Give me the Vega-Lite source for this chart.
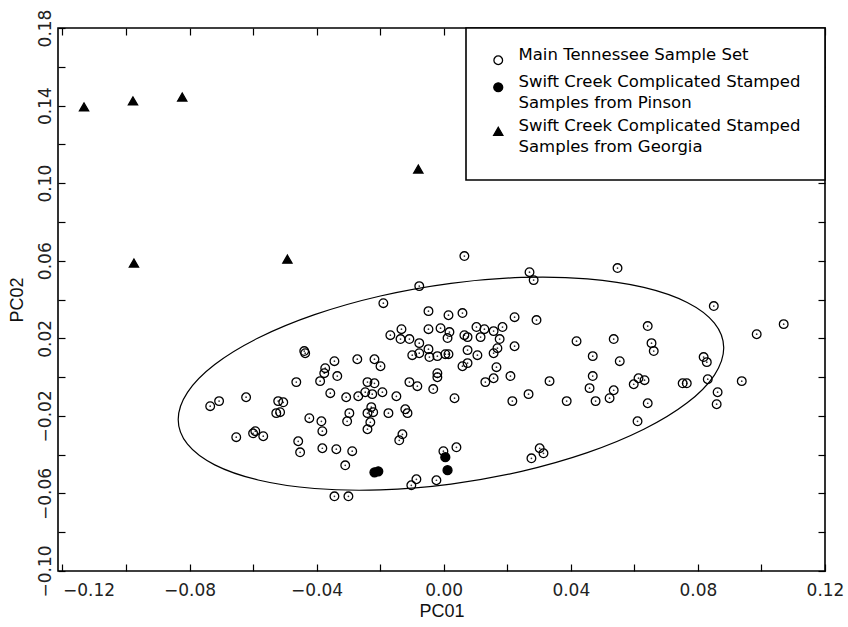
{
  "$schema": "https://vega.github.io/schema/vega-lite/v6.json",
  "width": 767,
  "height": 543,
  "autosize": {"type": "none"},
  "padding": {"left": 58, "top": 28, "right": 23, "bottom": 56},
  "background": "white",
  "config": {
    "view": {"stroke": "black", "strokeWidth": 1.6},
    "axis": {
      "grid": false,
      "domain": false,
      "tickColor": "black",
      "tickSize": -7,
      "tickWidth": 1.2,
      "labelFont": "DejaVu Sans",
      "labelFontSize": 17,
      "labelColor": "#222",
      "titleFont": "Liberation Sans",
      "titleFontSize": 18,
      "titleFontWeight": "normal",
      "titleColor": "#111"
    },
    "legend": {
      "orient": "top-right",
      "offset": 0,
      "strokeColor": "black",
      "strokeWidth": 1.6,
      "fillColor": "white",
      "padding": 24,
      "labelFont": "DejaVu Sans",
      "labelFontSize": 16.5,
      "labelColor": "black",
      "labelLimit": 0,
      "labelOffset": 12,
      "rowPadding": 6,
      "symbolStrokeColor": "black",
      "symbolStrokeWidth": 1.3,
      "symbolOpacity": 1,
      "labelBaseline": "alphabetic"
    },
    "style": {"guide-label": {"lineHeight": 21}}
  },
  "datasets": {
    "ell": [
      {"t": 0, "pc1": 0.08813, "pc2": 0.01506},
      {"t": 15, "pc1": 0.0852, "pc2": 0.02782},
      {"t": 30, "pc1": 0.07663, "pc2": 0.03847},
      {"t": 45, "pc1": 0.06298, "pc2": 0.04624},
      {"t": 60, "pc1": 0.04521, "pc2": 0.05065},
      {"t": 75, "pc1": 0.0245, "pc2": 0.05136},
      {"t": 90, "pc1": 0.00228, "pc2": 0.04834},
      {"t": 105, "pc1": -0.01994, "pc2": 0.0418},
      {"t": 120, "pc1": -0.04065, "pc2": 0.03217},
      {"t": 135, "pc1": -0.05842, "pc2": 0.02012},
      {"t": 150, "pc1": -0.07207, "pc2": 0.00647},
      {"t": 165, "pc1": -0.08064, "pc2": -0.00786},
      {"t": 180, "pc1": -0.08357, "pc2": -0.02188},
      {"t": 195, "pc1": -0.08064, "pc2": -0.03464},
      {"t": 210, "pc1": -0.07207, "pc2": -0.04529},
      {"t": 225, "pc1": -0.05842, "pc2": -0.05306},
      {"t": 240, "pc1": -0.04065, "pc2": -0.05747},
      {"t": 255, "pc1": -0.01994, "pc2": -0.05818},
      {"t": 270, "pc1": 0.00228, "pc2": -0.05516},
      {"t": 285, "pc1": 0.0245, "pc2": -0.04862},
      {"t": 300, "pc1": 0.04521, "pc2": -0.03899},
      {"t": 315, "pc1": 0.06298, "pc2": -0.02694},
      {"t": 330, "pc1": 0.07663, "pc2": -0.01329},
      {"t": 345, "pc1": 0.0852, "pc2": 0.00104}
    ],
    "pts": [
      {"pc1": 0.0065, "pc2": 0.0624, "group": "main"},
      {"pc1": 0.0270, "pc2": 0.0541, "group": "main"},
      {"pc1": 0.0283, "pc2": 0.0500, "group": "main"},
      {"pc1": 0.0547, "pc2": 0.0562, "group": "main"},
      {"pc1": -0.0077, "pc2": 0.0469, "group": "main"},
      {"pc1": -0.0190, "pc2": 0.0381, "group": "main"},
      {"pc1": 0.0850, "pc2": 0.0366, "group": "main"},
      {"pc1": -0.0048, "pc2": 0.0340, "group": "main"},
      {"pc1": 0.0015, "pc2": 0.0319, "group": "main"},
      {"pc1": 0.0059, "pc2": 0.0330, "group": "main"},
      {"pc1": 0.0223, "pc2": 0.0309, "group": "main"},
      {"pc1": 0.0292, "pc2": 0.0294, "group": "main"},
      {"pc1": 0.1070, "pc2": 0.0273, "group": "main"},
      {"pc1": -0.0133, "pc2": 0.0247, "group": "main"},
      {"pc1": -0.0048, "pc2": 0.0247, "group": "main"},
      {"pc1": -0.0010, "pc2": 0.0252, "group": "main"},
      {"pc1": 0.0103, "pc2": 0.0258, "group": "main"},
      {"pc1": 0.0128, "pc2": 0.0247, "group": "main"},
      {"pc1": 0.0157, "pc2": 0.0237, "group": "main"},
      {"pc1": 0.0185, "pc2": 0.0258, "group": "main"},
      {"pc1": 0.0642, "pc2": 0.0263, "group": "main"},
      {"pc1": -0.0168, "pc2": 0.0216, "group": "main"},
      {"pc1": -0.0136, "pc2": 0.0196, "group": "main"},
      {"pc1": -0.0108, "pc2": 0.0196, "group": "main"},
      {"pc1": 0.0018, "pc2": 0.0232, "group": "main"},
      {"pc1": 0.0012, "pc2": 0.0201, "group": "main"},
      {"pc1": -0.0077, "pc2": 0.0175, "group": "main"},
      {"pc1": 0.0065, "pc2": 0.0216, "group": "main"},
      {"pc1": 0.0075, "pc2": 0.0206, "group": "main"},
      {"pc1": 0.0116, "pc2": 0.0206, "group": "main"},
      {"pc1": 0.0176, "pc2": 0.0196, "group": "main"},
      {"pc1": 0.0985, "pc2": 0.0221, "group": "main"},
      {"pc1": 0.0418, "pc2": 0.0185, "group": "main"},
      {"pc1": 0.0535, "pc2": 0.0196, "group": "main"},
      {"pc1": 0.0654, "pc2": 0.0175, "group": "main"},
      {"pc1": 0.0661, "pc2": 0.0134, "group": "main"},
      {"pc1": 0.0223, "pc2": 0.0159, "group": "main"},
      {"pc1": -0.0439, "pc2": 0.0134, "group": "main"},
      {"pc1": -0.0436, "pc2": 0.0123, "group": "main"},
      {"pc1": -0.0048, "pc2": 0.0144, "group": "main"},
      {"pc1": -0.0099, "pc2": 0.0113, "group": "main"},
      {"pc1": -0.0077, "pc2": 0.0123, "group": "main"},
      {"pc1": -0.0045, "pc2": 0.0103, "group": "main"},
      {"pc1": -0.0020, "pc2": 0.0108, "group": "main"},
      {"pc1": 0.0005, "pc2": 0.0118, "group": "main"},
      {"pc1": 0.0015, "pc2": 0.0118, "group": "main"},
      {"pc1": 0.0075, "pc2": 0.0139, "group": "main"},
      {"pc1": 0.0106, "pc2": 0.0113, "group": "main"},
      {"pc1": 0.0157, "pc2": 0.0123, "group": "main"},
      {"pc1": 0.0169, "pc2": 0.0149, "group": "main"},
      {"pc1": 0.0469, "pc2": 0.0108, "group": "main"},
      {"pc1": 0.0554, "pc2": 0.0082, "group": "main"},
      {"pc1": 0.0818, "pc2": 0.0103, "group": "main"},
      {"pc1": 0.0828, "pc2": 0.0077, "group": "main"},
      {"pc1": -0.0344, "pc2": 0.0082, "group": "main"},
      {"pc1": -0.0272, "pc2": 0.0092, "group": "main"},
      {"pc1": -0.0218, "pc2": 0.0092, "group": "main"},
      {"pc1": -0.0199, "pc2": 0.0056, "group": "main"},
      {"pc1": 0.0059, "pc2": 0.0056, "group": "main"},
      {"pc1": 0.0075, "pc2": 0.0072, "group": "main"},
      {"pc1": 0.0166, "pc2": 0.0051, "group": "main"},
      {"pc1": -0.0373, "pc2": 0.0046, "group": "main"},
      {"pc1": -0.0376, "pc2": 0.0020, "group": "main"},
      {"pc1": -0.0335, "pc2": 0.0005, "group": "main"},
      {"pc1": -0.0389, "pc2": -0.0021, "group": "main"},
      {"pc1": -0.0464, "pc2": -0.0026, "group": "main"},
      {"pc1": -0.0020, "pc2": 0.0020, "group": "main"},
      {"pc1": -0.0020, "pc2": -0.0001, "group": "main"},
      {"pc1": 0.0157, "pc2": -0.0006, "group": "main"},
      {"pc1": 0.0210, "pc2": 0.0005, "group": "main"},
      {"pc1": 0.0131, "pc2": -0.0026, "group": "main"},
      {"pc1": -0.0240, "pc2": -0.0026, "group": "main"},
      {"pc1": -0.0218, "pc2": -0.0032, "group": "main"},
      {"pc1": -0.0108, "pc2": -0.0026, "group": "main"},
      {"pc1": -0.0083, "pc2": -0.0047, "group": "main"},
      {"pc1": -0.0033, "pc2": -0.0062, "group": "main"},
      {"pc1": 0.0469, "pc2": 0.0005, "group": "main"},
      {"pc1": 0.0333, "pc2": -0.0021, "group": "main"},
      {"pc1": 0.0459, "pc2": -0.0057, "group": "main"},
      {"pc1": 0.0535, "pc2": -0.0068, "group": "main"},
      {"pc1": 0.0598, "pc2": -0.0037, "group": "main"},
      {"pc1": 0.0613, "pc2": -0.0006, "group": "main"},
      {"pc1": 0.0632, "pc2": -0.0016, "group": "main"},
      {"pc1": 0.0752, "pc2": -0.0032, "group": "main"},
      {"pc1": 0.0765, "pc2": -0.0032, "group": "main"},
      {"pc1": 0.0831, "pc2": -0.0011, "group": "main"},
      {"pc1": 0.0938, "pc2": -0.0021, "group": "main"},
      {"pc1": -0.0357, "pc2": -0.0083, "group": "main"},
      {"pc1": -0.0307, "pc2": -0.0104, "group": "main"},
      {"pc1": -0.0269, "pc2": -0.0099, "group": "main"},
      {"pc1": -0.0247, "pc2": -0.0078, "group": "main"},
      {"pc1": -0.0225, "pc2": -0.0088, "group": "main"},
      {"pc1": -0.0193, "pc2": -0.0078, "group": "main"},
      {"pc1": -0.0149, "pc2": -0.0099, "group": "main"},
      {"pc1": 0.0034, "pc2": -0.0109, "group": "main"},
      {"pc1": 0.0267, "pc2": -0.0088, "group": "main"},
      {"pc1": -0.0707, "pc2": -0.0124, "group": "main"},
      {"pc1": -0.0735, "pc2": -0.0150, "group": "main"},
      {"pc1": -0.0622, "pc2": -0.0104, "group": "main"},
      {"pc1": -0.0521, "pc2": -0.0124, "group": "main"},
      {"pc1": -0.0505, "pc2": -0.0130, "group": "main"},
      {"pc1": 0.0862, "pc2": -0.0078, "group": "main"},
      {"pc1": 0.0216, "pc2": -0.0124, "group": "main"},
      {"pc1": 0.0522, "pc2": -0.0109, "group": "main"},
      {"pc1": 0.0478, "pc2": -0.0124, "group": "main"},
      {"pc1": 0.0387, "pc2": -0.0124, "group": "main"},
      {"pc1": 0.0642, "pc2": -0.0135, "group": "main"},
      {"pc1": 0.0859, "pc2": -0.0140, "group": "main"},
      {"pc1": -0.0527, "pc2": -0.0186, "group": "main"},
      {"pc1": -0.0515, "pc2": -0.0181, "group": "main"},
      {"pc1": -0.0228, "pc2": -0.0155, "group": "main"},
      {"pc1": -0.0222, "pc2": -0.0181, "group": "main"},
      {"pc1": -0.0240, "pc2": -0.0186, "group": "main"},
      {"pc1": -0.0297, "pc2": -0.0186, "group": "main"},
      {"pc1": -0.0304, "pc2": -0.0228, "group": "main"},
      {"pc1": -0.0174, "pc2": -0.0186, "group": "main"},
      {"pc1": -0.0121, "pc2": -0.0166, "group": "main"},
      {"pc1": -0.0114, "pc2": -0.0186, "group": "main"},
      {"pc1": -0.0423, "pc2": -0.0212, "group": "main"},
      {"pc1": -0.0385, "pc2": -0.0228, "group": "main"},
      {"pc1": -0.0382, "pc2": -0.0279, "group": "main"},
      {"pc1": -0.0231, "pc2": -0.0233, "group": "main"},
      {"pc1": -0.0240, "pc2": -0.0269, "group": "main"},
      {"pc1": 0.0610, "pc2": -0.0228, "group": "main"},
      {"pc1": -0.0653, "pc2": -0.0310, "group": "main"},
      {"pc1": -0.0593, "pc2": -0.0279, "group": "main"},
      {"pc1": -0.0600, "pc2": -0.0290, "group": "main"},
      {"pc1": -0.0568, "pc2": -0.0305, "group": "main"},
      {"pc1": -0.0130, "pc2": -0.0295, "group": "main"},
      {"pc1": -0.0140, "pc2": -0.0326, "group": "main"},
      {"pc1": -0.0458, "pc2": -0.0331, "group": "main"},
      {"pc1": -0.0452, "pc2": -0.0388, "group": "main"},
      {"pc1": -0.0382, "pc2": -0.0367, "group": "main"},
      {"pc1": -0.0338, "pc2": -0.0372, "group": "main"},
      {"pc1": -0.0288, "pc2": -0.0382, "group": "main"},
      {"pc1": -0.0310, "pc2": -0.0455, "group": "main"},
      {"pc1": 0.0040, "pc2": -0.0362, "group": "main"},
      {"pc1": -0.0001, "pc2": -0.0382, "group": "main"},
      {"pc1": 0.0302, "pc2": -0.0367, "group": "main"},
      {"pc1": 0.0314, "pc2": -0.0393, "group": "main"},
      {"pc1": 0.0276, "pc2": -0.0419, "group": "main"},
      {"pc1": -0.0086, "pc2": -0.0527, "group": "main"},
      {"pc1": -0.0102, "pc2": -0.0558, "group": "main"},
      {"pc1": -0.0023, "pc2": -0.0532, "group": "main"},
      {"pc1": -0.0344, "pc2": -0.0615, "group": "main"},
      {"pc1": -0.0300, "pc2": -0.0615, "group": "main"},
      {"pc1": -0.0218, "pc2": -0.0491, "group": "pinson"},
      {"pc1": -0.0206, "pc2": -0.0486, "group": "pinson"},
      {"pc1": 0.0005, "pc2": -0.0413, "group": "pinson"},
      {"pc1": 0.0012, "pc2": -0.0480, "group": "pinson"},
      {"pc1": -0.1132, "pc2": 0.1393, "group": "georgia"},
      {"pc1": -0.0978, "pc2": 0.1424, "group": "georgia"},
      {"pc1": -0.0823, "pc2": 0.1444, "group": "georgia"},
      {"pc1": -0.0975, "pc2": 0.0588, "group": "georgia"},
      {"pc1": -0.0492, "pc2": 0.0608, "group": "georgia"},
      {"pc1": -0.0080, "pc2": 0.1073, "group": "georgia"}
    ]
  },
  "layer": [
    {
      "data": {"name": "ell"},
      "mark": {"type": "line", "interpolate": "cardinal-closed", "stroke": "black", "strokeWidth": 1.2},
      "encoding": {
        "x": {
          "field": "pc1", "type": "quantitative",
          "scale": {"domain": [-0.1214, 0.12], "nice": false, "zero": false},
          "axis": {
            "orient": "bottom",
            "values": [-0.12, -0.1, -0.08, -0.06, -0.04, -0.02, 0, 0.02, 0.04, 0.06, 0.08, 0.1, 0.12],
            "labelExpr": "abs(round(datum.value*100)) % 4 == 0 ? format(datum.value, '.2f') : ''",
            "labelAlign": {"condition": {"test": "datum.value < -0.11", "value": "left"}, "value": "center"},
            "labelPadding": 18,
            "title": "PC01",
            "titlePadding": 4
          }
        },
        "y": {
          "field": "pc2", "type": "quantitative",
          "scale": {"domain": [-0.1, 0.18], "nice": false, "zero": false},
          "axis": {
            "orient": "left",
            "values": [-0.1, -0.08, -0.06, -0.04, -0.02, 0, 0.02, 0.04, 0.06, 0.08, 0.1, 0.12, 0.14, 0.16, 0.18],
            "labelExpr": "abs(round(datum.value*100)) % 4 == 2 ? format(datum.value, '.2f') : ''",
            "labelAngle": 270,
            "labelAlign": "center",
            "labelBaseline": "bottom",
            "labelPadding": 11,
            "title": "PC02",
            "titlePadding": 10
          }
        },
        "order": {"field": "t", "type": "quantitative"}
      }
    },
    {
      "data": {"name": "pts"},
      "mark": {"type": "point", "filled": false, "color": "black", "strokeWidth": 1.3, "opacity": 1},
      "encoding": {
        "x": {
          "field": "pc1", "type": "quantitative",
          "scale": {"domain": [-0.1214, 0.12], "nice": false, "zero": false},
          "axis": {"orient": "top", "labels": false, "title": null,
            "values": [-0.12, -0.1, -0.08, -0.06, -0.04, -0.02, 0, 0.02, 0.04, 0.06, 0.08, 0.1, 0.12]}
        },
        "y": {
          "field": "pc2", "type": "quantitative",
          "scale": {"domain": [-0.1, 0.18], "nice": false, "zero": false},
          "axis": {"orient": "right", "labels": false, "title": null,
            "values": [-0.1, -0.08, -0.06, -0.04, -0.02, 0, 0.02, 0.04, 0.06, 0.08, 0.1, 0.12, 0.14, 0.16, 0.18]}
        },
        "shape": {
          "field": "group", "type": "nominal",
          "scale": {"domain": ["main", "pinson", "georgia"], "range": ["circle", "circle", "triangle-up"]},
          "legend": {"title": null, "labelExpr": "datum.label == 'main' ? 'Main Tennessee Sample Set' : datum.label == 'pinson' ? ['Swift Creek Complicated Stamped', '\u2007Samples from Pinson'] : ['Swift Creek Complicated Stamped', '\u2007Samples from Georgia']"}
        },
        "fill": {
          "field": "group", "type": "nominal",
          "scale": {"domain": ["main", "pinson", "georgia"], "range": ["transparent", "black", "black"]},
          "legend": {"title": null, "labelExpr": "datum.label == 'main' ? 'Main Tennessee Sample Set' : datum.label == 'pinson' ? ['Swift Creek Complicated Stamped', '\u2007Samples from Pinson'] : ['Swift Creek Complicated Stamped', '\u2007Samples from Georgia']"}
        },
        "stroke": {
          "field": "group", "type": "nominal",
          "scale": {"domain": ["main", "pinson", "georgia"], "range": ["black", "black", "black"]},
          "legend": {"title": null, "labelExpr": "datum.label == 'main' ? 'Main Tennessee Sample Set' : datum.label == 'pinson' ? ['Swift Creek Complicated Stamped', '\u2007Samples from Pinson'] : ['Swift Creek Complicated Stamped', '\u2007Samples from Georgia']"}
        },
        "size": {
          "field": "group", "type": "nominal",
          "scale": {"domain": ["main", "pinson", "georgia"], "range": [75, 85, 120]},
          "legend": {"title": null, "labelExpr": "datum.label == 'main' ? 'Main Tennessee Sample Set' : datum.label == 'pinson' ? ['Swift Creek Complicated Stamped', '\u2007Samples from Pinson'] : ['Swift Creek Complicated Stamped', '\u2007Samples from Georgia']"}
        }
      }
    },
    {
      "data": {"name": "pts"},
      "transform": [{"filter": "datum.group == 'main'"}],
      "mark": {"type": "point", "filled": true, "size": 3, "color": "black", "opacity": 0.8},
      "encoding": {
        "x": {"field": "pc1", "type": "quantitative", "scale": {"domain": [-0.1214, 0.12], "nice": false, "zero": false}, "axis": null},
        "y": {"field": "pc2", "type": "quantitative", "scale": {"domain": [-0.1, 0.18], "nice": false, "zero": false}, "axis": null}
      }
    }
  ],
  "resolve": {"axis": {"x": "independent", "y": "independent"}}
}
